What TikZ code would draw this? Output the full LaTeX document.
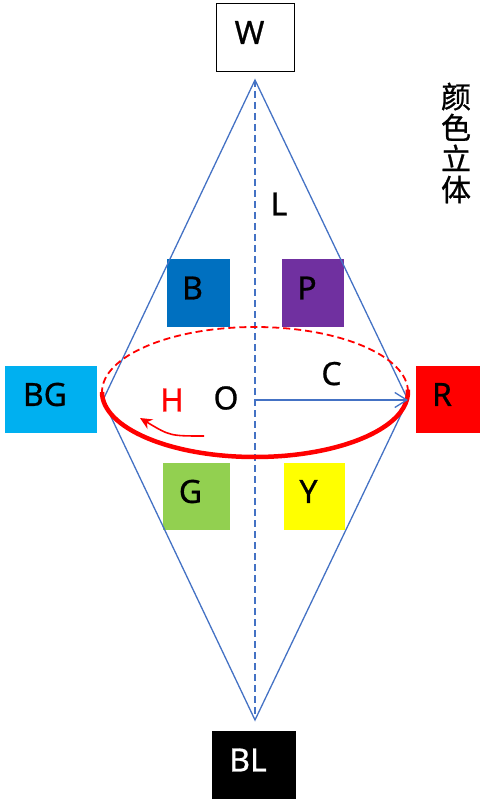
\documentclass[tikz,border=0pt]{standalone}
\usepackage{fontspec}
\setmainfont[FakeBold=0.8,BoldFont={Noto Sans}]{Noto Sans}
\newfontfamily\cjk[FakeBold=0.8]{Noto Sans CJK SC}
\usetikzlibrary{arrows.meta, positioning}

\definecolor{lineblue}{HTML}{4472C4}
\definecolor{cB}{HTML}{0070C0}
\definecolor{cP}{HTML}{7030A0}
\definecolor{cBG}{HTML}{00B0F0}
\definecolor{cG}{HTML}{92D050}
\definecolor{cY}{HTML}{FFFF00}

\begin{document}
\begin{tikzpicture}[x=1pt, y=-1pt, >=Stealth]
        % Style definitions
        \tikzstyle{swatch} = [rectangle, inner sep=0pt, minimum height=67pt]
        \tikzstyle{tag} = [font=\bfseries\fontsize{32}{34}\selectfont, xshift=-6pt, yshift=5pt]
        \tikzstyle{word} = [font=\bfseries\fontsize{32}{34}\selectfont, inner sep=0pt]
        \tikzstyle{edge} = [lineblue, line width=1.3pt]

        \useasboundingbox (0,0) rectangle (491,799);

        % Colour swatches
        \node [swatch, draw=black, line width=1.5pt, minimum width=78pt, minimum height=68pt, label={[tag]center:W}] (W) at (255.5,37.5) {};
        \node [swatch, fill=cB, minimum width=63pt, minimum height=68pt, label={[tag]center:B}] (B) at (198.5,293) {};
        \node [swatch, fill=cP, minimum width=62pt, minimum height=68pt, label={[tag]center:P}] (P) at (313,293) {};
        \node [swatch, fill=cBG, minimum width=92pt, label={[tag]center:BG}] (BG) at (51,399.5) {};
        \node [swatch, fill=red, minimum width=64pt, label={[tag]center:R}] (R) at (448,399.5) {};
        \node [swatch, fill=cG, minimum width=67pt, label={[tag]center:G}] (G) at (196.5,496.5) {};
        \node [swatch, fill=cY, minimum width=61pt, label={[tag]center:Y}] (Y) at (314.5,496.5) {};
        \node [swatch, fill=black, minimum width=84pt, minimum height=68pt, label={[tag, white]center:BL}] (BL) at (254,765) {};

        % Solid
        \coordinate (top) at (255,80);
        \coordinate (bottom) at (255,720);
        \coordinate (left) at (103,400);
        \coordinate (right) at (408,400);
        \coordinate (O) at (255,400);
        \coordinate (hue) at (255,392);

        \draw [edge] (top) -- (right) -- (bottom) -- (left) -- cycle;
        \draw [edge, dash pattern=on 7pt off 4pt] (top) -- (bottom);

        % Hue circle
        \draw [red, line width=1.8pt, dash pattern=on 7pt off 4pt] (hue) ++(153pt,0) arc[start angle=0, end angle=180, x radius=153pt, y radius=65pt];
        \draw [red, line width=4.5pt] (hue) ++(-153pt,0) arc[start angle=180, end angle=362, x radius=153pt, y radius=65pt];

        \draw [edge, -{Straight Barb[length=12pt, width=15pt]}] (O) -- node[word, black, above=14pt] (C) {C} (right);
        \coordinate (hstart) at (204,436);
        \coordinate (hend) at (140,418);
        \draw [red, line width=1.6pt, -{Stealth[length=12pt, width=11pt]}] (hstart) .. controls (170,436) .. (hend);

        % Labels
        \node [word] (L) at (279,204) {L};
        \node [word] (Olab) at (226,398) {O};
        \node [word, red] (H) at (172,400) {H};
        \node [font=\cjk\fontsize{30}{31}\selectfont, align=center, inner sep=0pt] (title) at (456,143) {颜\\色\\立\\体};
\end{tikzpicture}
\end{document}
